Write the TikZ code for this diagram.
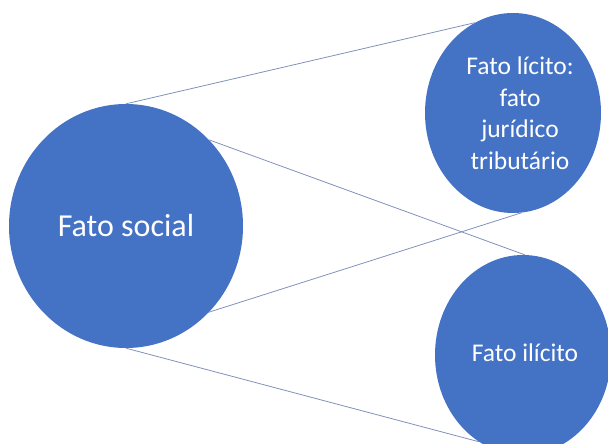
\documentclass[tikz,border=0pt]{standalone}
\usepackage{fontspec}
\setmainfont{Carlito}
\usetikzlibrary{shapes.geometric}
\usetikzlibrary{positioning}
\definecolor{fatoblue}{RGB}{68,114,196}
\definecolor{linkgray}{RGB}{128,146,186}
\tikzset{
fato/.style={
  ellipse,fill=fatoblue,draw=none,inner sep=0pt},
fatotxt/.style={
  text=white,align=center,inner sep=0pt,font=\fontsize{25.5}{31.5}\selectfont},
link/.style={
  draw=linkgray,line width=0.8pt}
}

\begin{document}
\begin{tikzpicture}[x=1pt,y=-1pt]
\useasboundingbox (0,0) rectangle (608,444);
\clip (0,0) rectangle (608,444);

\node[fato,minimum width=234pt,minimum height=244pt](social) at (126,226){};
\node[fato,minimum width=176pt,minimum height=200pt](licito) at (513,113){};
\node[fato,minimum width=176pt,minimum height=200pt](ilicito) at (523,355){};

\path[link](social.90) edge (licito.113);
\path[link](social.46) edge (ilicito.89);
\path[link](social.314) edge (licito.275);
\path[link](social.270) edge (ilicito.243);

\node[fatotxt,font=\fontsize{32}{38}\selectfont](socialtxt) at (social.center){Fato social};
\node[fatotxt](licitotxt) at ([xshift=7pt]licito.center){Fato lícito:\\fato\\jurídico\\tributário};
\node[fatotxt](ilicitotxt) at ([xshift=2pt,yshift=2pt]ilicito.center){Fato ilícito};

\end{tikzpicture}
\end{document}
